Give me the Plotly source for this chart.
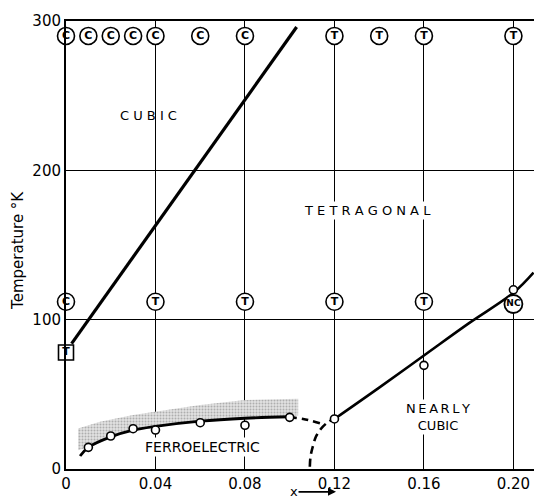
import plotly.graph_objects as go

# ---------------- data ----------------
x_ticks = [0, 0.04, 0.08, 0.12, 0.16, 0.20]
x_tick_labels = ["0", "0.04", "0.08", "0.12", "0.16", "0.20"]
y_ticks = [0, 100, 200, 300]
y_tick_labels = ["0", "100", "200", "300"]

# cubic / tetragonal boundary
cubic_x = [0.0025, 0.1031]
cubic_T = [84, 296]

# ferroelectric transition curve (solid) and measured points
ferro_curve_x = [0.0063, 0.01, 0.02, 0.03, 0.04, 0.06, 0.08, 0.10]
ferro_curve_T = [8.7, 14.5, 21.5, 26, 28.5, 32, 34, 35]
ferro_pts_x = [0.01, 0.02, 0.03, 0.04, 0.06, 0.08, 0.10]
ferro_pts_T = [14.5, 22.1, 27, 26.1, 31, 29.3, 34.6]

# dashed extrapolations
dash1_x = [0.10, 0.106, 0.1135]
dash1_T = [34.6, 33.5, 30.6]
dash2_x = [0.1090, 0.1093, 0.1103, 0.1117, 0.1138, 0.1164, 0.1187]
dash2_T = [1.5, 8.2, 14.9, 21.6, 26.6, 30.6, 32.8]

# nearly-cubic boundary and measured points
nc_curve_x = [0.12, 0.14, 0.16, 0.18, 0.20, 0.209]
nc_curve_T = [33.5, 54.5, 76, 97.5, 118, 131.5]
nc_pts_x = [0.12, 0.16, 0.20]
nc_pts_T = [33.5, 69.4, 120]

# stippled band above ferroelectric curve
band_top_x = [0.0054, 0.0152, 0.030, 0.040, 0.060, 0.080, 0.1038]
band_top_T = [27.2, 31.7, 36.2, 38.4, 42.9, 46.2, 47]
band_bot_x = [0.1038, 0.08, 0.06, 0.04, 0.03, 0.02, 0.01, 0.0054]
band_bot_T = [35.8, 34, 32, 28.5, 26, 21.5, 14.5, 12.5]

# phase observation symbols
top_C_x = [0, 0.01, 0.02, 0.03, 0.04, 0.06, 0.08]
top_T_x = [0.12, 0.14, 0.16, 0.20]
top_row_T = 290
mid_x = [0, 0.04, 0.08, 0.12, 0.16]
mid_labels = ["C", "T", "T", "T", "T"]
mid_row_T = 112
nc_sym_x = [0.20]
nc_sym_T = [110.5]
sq_x = [0]
sq_T = [78]

# ---------------- figure ----------------
FONT = "DejaVu Sans"
fig = go.Figure()

# stippled band
fig.add_trace(go.Scatter(
    x=band_top_x + band_bot_x, y=band_top_T + band_bot_T,
    mode="lines", fill="toself", line=dict(width=0, color="rgba(0,0,0,0)"),
    fillcolor="rgba(200,200,200,1)",
    fillpattern=dict(shape=".", bgcolor="#e2e2e2", fgcolor="#7a7a7a", size=3, solidity=0.35),
    hoverinfo="skip", showlegend=False))

# lines
fig.add_trace(go.Scatter(x=cubic_x, y=cubic_T, mode="lines",
                         line=dict(color="black", width=3.2), showlegend=False))
fig.add_trace(go.Scatter(x=ferro_curve_x, y=ferro_curve_T, mode="lines",
                         line=dict(color="black", width=2.8, shape="spline"), showlegend=False))
fig.add_trace(go.Scatter(x=dash1_x, y=dash1_T, mode="lines",
                         line=dict(color="black", width=2.6, dash="7px,5px", shape="spline"),
                         showlegend=False))
fig.add_trace(go.Scatter(x=dash2_x, y=dash2_T, mode="lines",
                         line=dict(color="black", width=2.6, dash="8px,5px", shape="spline"),
                         showlegend=False))
fig.add_trace(go.Scatter(x=nc_curve_x, y=nc_curve_T, mode="lines",
                         line=dict(color="black", width=2.6, shape="spline"), showlegend=False))

# measured points
fig.add_trace(go.Scatter(x=ferro_pts_x + nc_pts_x, y=ferro_pts_T + nc_pts_T, mode="markers",
                         marker=dict(size=8, color="white", line=dict(color="black", width=1.6)),
                         cliponaxis=False, showlegend=False))

# circled phase symbols
circ_x = top_C_x + top_T_x + mid_x
circ_T = [top_row_T] * (len(top_C_x) + len(top_T_x)) + [mid_row_T] * len(mid_x)
circ_lab = ["C"] * len(top_C_x) + ["T"] * len(top_T_x) + mid_labels
fig.add_trace(go.Scatter(x=circ_x, y=circ_T, mode="markers+text", text=circ_lab,
                         textposition="middle center",
                         textfont=dict(family=FONT, size=11, color="black", weight="bold"),
                         marker=dict(size=17, color="white", line=dict(color="black", width=1.6)),
                         cliponaxis=False, showlegend=False))
fig.add_trace(go.Scatter(x=nc_sym_x, y=nc_sym_T, mode="markers+text", text=["NC"],
                         textposition="middle center",
                         textfont=dict(family=FONT, size=9, color="black", weight="bold"),
                         marker=dict(size=18, color="white", line=dict(color="black", width=1.8)),
                         cliponaxis=False, showlegend=False))
fig.add_trace(go.Scatter(x=sq_x, y=sq_T, mode="markers+text", text=["T"],
                         textposition="middle center",
                         textfont=dict(family=FONT, size=11, color="black", weight="bold"),
                         marker=dict(size=15, symbol="square", color="white",
                                     line=dict(color="black", width=1.6)),
                         cliponaxis=False, showlegend=False))

# region labels
def label(text, x, y, size=13, bg=None):
    fig.add_annotation(x=x, y=y, text=text, showarrow=False,
                       font=dict(family=FONT, size=size, color="black"),
                       bgcolor=bg, borderpad=1, xanchor="center", yanchor="middle")

label("C U B I C", 0.0367, 237)
label("T E T R A G O N A L", 0.1349, 173.4, bg="white")
label("FERROELECTRIC", 0.061, 15, size=14, bg="white")
label("N\u2009E\u2009A\u2009R\u2009L\u2009Y<br>CUBIC", 0.1663, 34.5, size=13, bg="white")

# axis title (y) and x label with arrow
fig.add_annotation(xref="paper", x=-0.1026, y=146.7, text="Temperature \u00b0K", textangle=-90,
                   showarrow=False, font=dict(family=FONT, size=15, color="black"),
                   xanchor="center", yanchor="middle")
fig.add_annotation(xref="x", yref="paper", x=0.1207, y=-0.051, text="x", showarrow=True,
                   axref="pixel", ayref="pixel", ax=-42, ay=0, borderpad=0,
                   arrowhead=2, arrowsize=1, arrowwidth=1.6, arrowcolor="black",
                   font=dict(family=FONT, size=13, color="black"))

fig.update_layout(
    width=534, height=502,
    margin=dict(l=66, r=0, t=21, b=33),
    plot_bgcolor="white", paper_bgcolor="white",
    showlegend=False,
    xaxis=dict(range=[0, 0.2092], tickvals=x_ticks, ticktext=x_tick_labels,
               showgrid=True, gridcolor="black", gridwidth=1, zeroline=False,
               showline=True, linecolor="black", linewidth=2, mirror=True, ticks="",
               tickfont=dict(family=FONT, size=15, color="black")),
    yaxis=dict(range=[0, 300], tickvals=y_ticks, ticktext=y_tick_labels,
               showgrid=True, gridcolor="black", gridwidth=1, zeroline=False,
               showline=True, linecolor="black", linewidth=2, ticks="",
               tickfont=dict(family=FONT, size=15, color="black")),
)

fig.write_html("out.html")
